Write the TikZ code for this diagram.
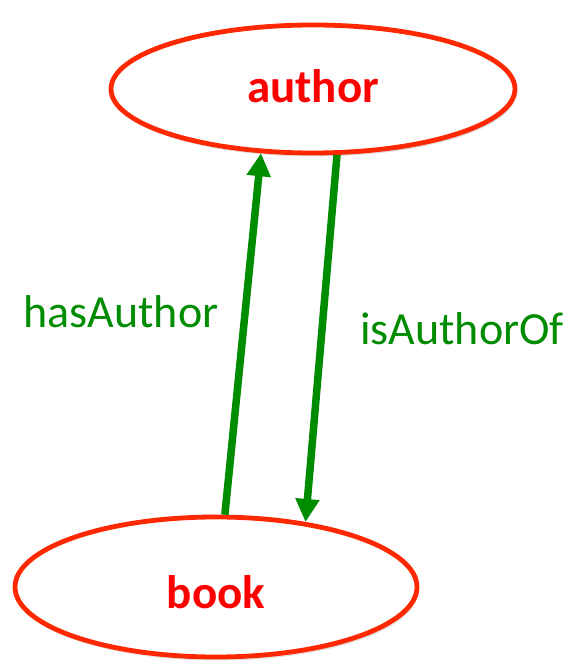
\documentclass[tikz,border=0pt]{standalone}
\usepackage{fontspec}
\setmainfont{Carlito}
\usetikzlibrary{arrows.meta,shadows,shapes.geometric}
\definecolor{ellred}{RGB}{255,40,0}
\definecolor{txtred}{RGB}{255,0,0}
\definecolor{arrgreen}{RGB}{0,140,0}
\tikzset{
  cls/.style={ellipse, draw=ellred, line width=4.8pt, fill=white, inner sep=0pt,
    drop shadow={opacity=0.25, shadow xshift=1.5pt, shadow yshift=-3.5pt}},
  clstext/.style={font=\bfseries\fontsize{47}{56}\selectfont, text=txtred, inner sep=0pt},
  rel/.style={draw=arrgreen, line width=7.5pt, -{Triangle[width=23pt,length=23pt]}},
  lbl/.style={text=arrgreen, font=\fontsize{46}{55}\selectfont, inner sep=0pt, anchor=base}
}
\begin{document}
\begin{tikzpicture}[x=1pt,y=1pt]
\useasboundingbox (0,0) rectangle (576,661);
\node[cls, minimum width=404pt, minimum height=128pt] (author) at (313,572) {};
\node[clstext, anchor=base] (authortxt) at (313,558) {author};
\node[cls, minimum width=402pt, minimum height=140pt] (book) at (216,74) {};
\node[clstext, anchor=base] (booktxt) at (216,52) {book};
\draw[rel] (book.83) -- (author.231);
\draw[rel] (author.290) -- (book.36);
\node[lbl] (has) at (121,333) {hasAuthor};
\node[lbl] (isof) at (462,316) {isAuthorOf};
\end{tikzpicture}
\end{document}
